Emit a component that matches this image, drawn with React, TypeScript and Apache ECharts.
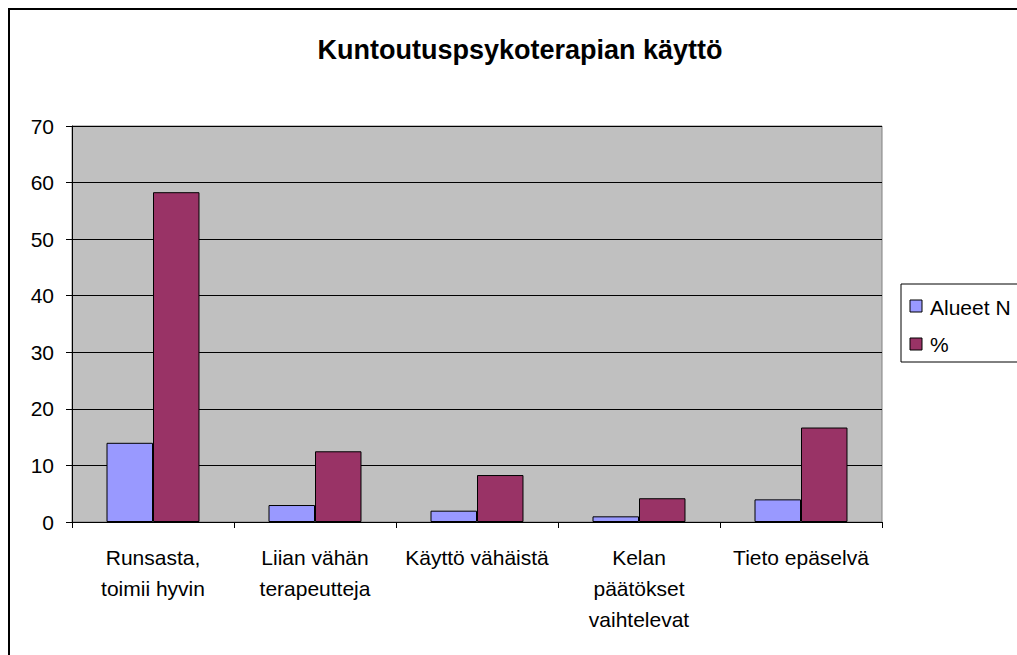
import React, { useEffect, useRef } from "react";
import * as echarts from "echarts";

const titleText = "Kuntoutuspsykoterapian käyttö";
const categories = [
  "Runsasta,\ntoimii hyvin",
  "Liian vähän\nterapeutteja",
  "Käyttö vähäistä",
  "Kelan\npäätökset\nvaihtelevat",
  "Tieto epäselvä",
];
const seriesNames = ["Alueet N", "%"];
const alueetN = [14, 3, 2, 1, 4];
const percent = [58.3, 12.5, 8.3, 4.2, 16.7];
const seriesColors = ["#9999FF", "#993366"];

const FONT = "'Liberation Sans', Arial, sans-serif";

export default function App() {
  const ref = useRef<HTMLDivElement>(null);
  useEffect(() => {
    document.body.style.margin = "0";
    if (!ref.current) return;
    const chart = echarts.init(ref.current, undefined, { renderer: "svg" });
    chart.setOption({
      animation: false,
      backgroundColor: "#ffffff",
      textStyle: { fontFamily: FONT },
      grid: {
        left: 72,
        right: 135,
        top: 126,
        bottom: 133,
        show: true,
        backgroundColor: "#C0C0C0",
        borderColor: "#808080",
        borderWidth: 1,
      },
      xAxis: {
        type: "category",
        data: categories,
        axisLine: { lineStyle: { color: "#000", width: 1 } },
        axisTick: { show: true, length: 6, lineStyle: { color: "#000" } },
        axisLabel: {
          color: "#000",
          fontSize: 21,
          fontFamily: FONT,
          lineHeight: 31,
          margin: 20,
          interval: 0,
          align: "center",
        },
        splitLine: { show: false },
      },
      yAxis: {
        type: "value",
        min: 0,
        max: 70,
        interval: 10,
        axisLine: { show: true, lineStyle: { color: "#000", width: 1 } },
        axisTick: { show: true, length: 6, lineStyle: { color: "#000" } },
        axisLabel: { color: "#000", fontSize: 21, fontFamily: FONT, margin: 18 },
        splitLine: { show: true, lineStyle: { color: "#000", width: 1 } },
      },
      series: [
        {
          name: seriesNames[0],
          type: "bar",
          data: alueetN,
          barGap: "0%",
          barCategoryGap: "42.6%",
          itemStyle: { color: seriesColors[0], borderColor: "#000", borderWidth: 1 },
        },
        {
          name: seriesNames[1],
          type: "bar",
          data: percent,
          barGap: "0%",
          barCategoryGap: "42.6%",
          itemStyle: { color: seriesColors[1], borderColor: "#000", borderWidth: 1 },
        },
      ],
      graphic: [
        {
          type: "rect",
          shape: { x: 9, y: 9, width: 1100, height: 720 },
          style: { fill: "none", stroke: "#000", lineWidth: 2 },
          silent: true,
          z: 100,
        },
        {
          type: "text",
          x: 520,
          y: 50,
          style: {
            text: titleText,
            font: `bold 27px ${FONT}`,
            fill: "#000",
            align: "center",
            verticalAlign: "middle",
          },
        },
        {
          type: "rect",
          shape: { x: 901, y: 284, width: 200, height: 78 },
          style: { fill: "#fff", stroke: "#000", lineWidth: 1 },
        },
        {
          type: "rect",
          shape: { x: 910, y: 300, width: 12, height: 12 },
          style: { fill: seriesColors[0], stroke: "#000", lineWidth: 1 },
        },
        {
          type: "text",
          x: 930,
          y: 307,
          style: {
            text: seriesNames[0],
            font: `21px ${FONT}`,
            fill: "#000",
            verticalAlign: "middle",
          },
        },
        {
          type: "rect",
          shape: { x: 910, y: 338, width: 12, height: 12 },
          style: { fill: seriesColors[1], stroke: "#000", lineWidth: 1 },
        },
        {
          type: "text",
          x: 930,
          y: 344,
          style: {
            text: seriesNames[1],
            font: `21px ${FONT}`,
            fill: "#000",
            verticalAlign: "middle",
          },
        },
      ],
    });
    return () => chart.dispose();
  }, []);
  return <div ref={ref} style={{ width: 1017, height: 655 }} />;
}
